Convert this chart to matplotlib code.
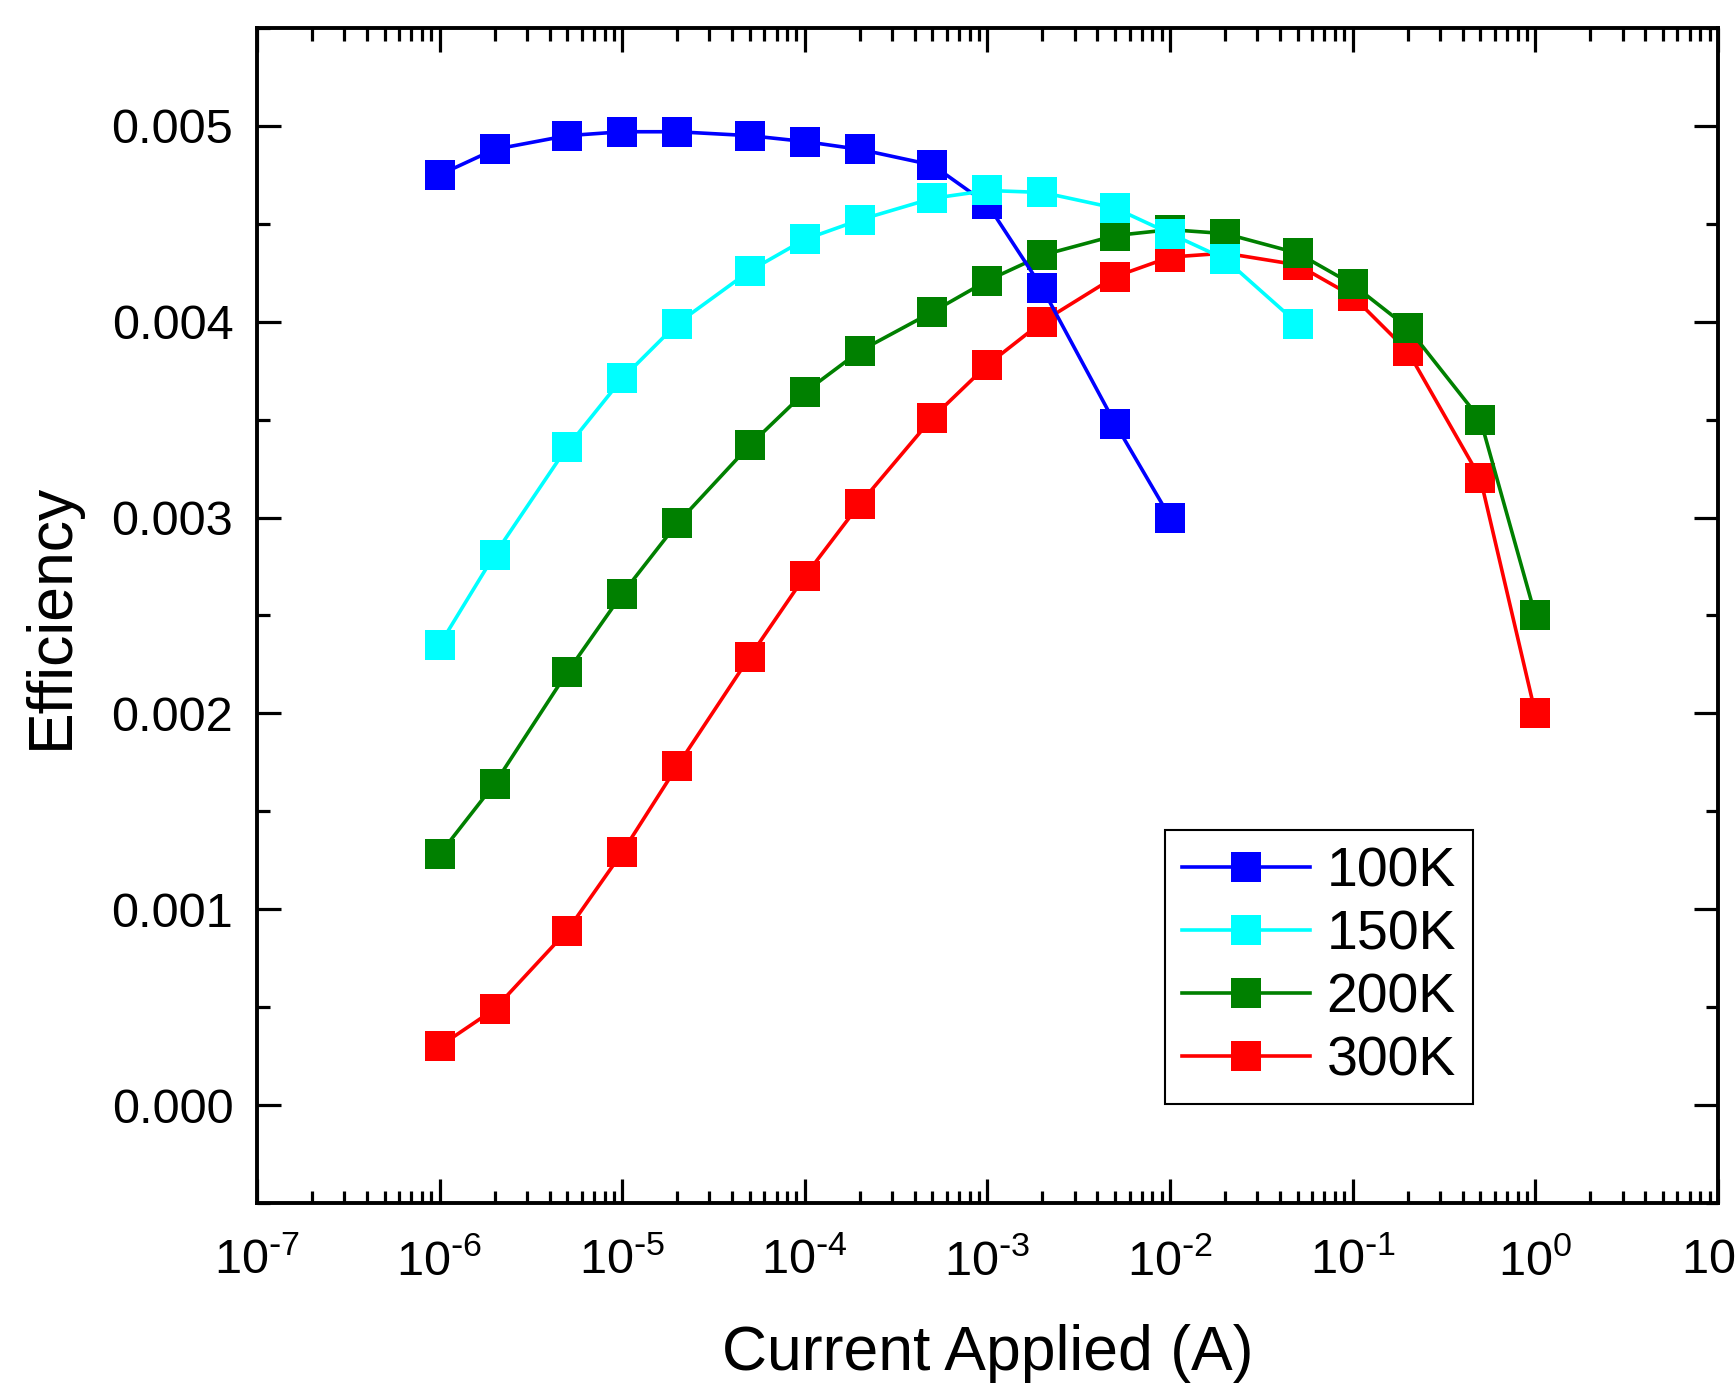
import matplotlib
matplotlib.use("Agg")
import matplotlib.pyplot as plt
from matplotlib.ticker import FormatStrFormatter, MultipleLocator, LogLocator, NullFormatter, FuncFormatter
import numpy as np

plt.rcParams['font.family'] = ['Liberation Sans', 'DejaVu Sans']
plt.rcParams['mathtext.default'] = 'regular'
plt.rcParams['axes.unicode_minus'] = False

current = [1e-6, 2e-6, 5e-6, 1e-5, 2e-5, 5e-5, 1e-4, 2e-4, 5e-4, 1e-3,
           2e-3, 5e-3, 1e-2, 2e-2, 5e-2, 1e-1, 2e-1, 5e-1, 1.0]

eff_100K = [0.00475, 0.00488, 0.00495, 0.00497, 0.00497, 0.00495, 0.00492, 0.00488,
            0.00480, 0.00460, 0.00417, 0.00348, 0.00300]
eff_150K = [0.00235, 0.00281, 0.00336, 0.00371, 0.00399, 0.00426, 0.00442, 0.00452,
            0.00463, 0.00467, 0.00466, 0.00458, 0.00445, 0.00432, 0.00399]
eff_200K = [0.00128, 0.00164, 0.00221, 0.00261, 0.00297, 0.00337, 0.00364, 0.00385,
            0.00405, 0.00421, 0.00434, 0.00444, 0.00447, 0.00445, 0.00435, 0.00419,
            0.00397, 0.00350, 0.00250]
eff_300K = [0.00030, 0.00049, 0.00089, 0.00129, 0.00173, 0.00229, 0.00270, 0.00307,
            0.00351, 0.00378, 0.00400, 0.00423, 0.00433, 0.00435, 0.00429, 0.00413,
            0.00385, 0.00320, 0.00200]

labels = ['100K', '150K', '200K', '300K']
colors = ['#0000FF', '#00FFFF', '#008000', '#FF0000']

fig = plt.figure(figsize=(17.35, 13.91), dpi=100)
ax = fig.add_axes([0.1481, 0.1352, 0.8421, 0.8447])

series = [eff_100K, eff_150K, eff_200K, eff_300K]
zorders = [4, 5, 3, 2]
for vals, lab, col, z in zip(series, labels, colors, zorders):
    ax.plot(current[:len(vals)], vals, '-s', color=col, lw=2.6, ms=21,
            markeredgewidth=0, label=lab, zorder=z)

ax.set_xscale('log')
ax.set_xlim(1e-7, 1e1)
ax.set_ylim(-0.0005, 0.0055)
ax.yaxis.set_major_locator(MultipleLocator(0.001))
ax.yaxis.set_minor_locator(MultipleLocator(0.0005))
ax.yaxis.set_major_formatter(FormatStrFormatter('%.3f'))
ax.xaxis.set_major_locator(LogLocator(base=10, numticks=20))
ax.xaxis.set_minor_locator(LogLocator(base=10, subs=range(2, 10), numticks=20))
ax.xaxis.set_minor_formatter(NullFormatter())


def log_fmt(v, pos):
    e = int(round(np.log10(v)))
    if e < 0:
        return '10$^{\\text{-}%d}$' % abs(e)
    return '10$^{%d}$' % e


ax.xaxis.set_major_formatter(FuncFormatter(log_fmt))

for s in ax.spines.values():
    s.set_linewidth(2.8)
ax.tick_params(which='both', direction='in', top=True, right=True, width=2.3)
ax.tick_params(which='major', length=17, labelsize=35)
ax.tick_params(axis='x', which='major', pad=26)
ax.tick_params(axis='y', which='major', pad=17)
ax.tick_params(which='minor', length=9)

ax.set_xlabel('Current Applied (A)', fontsize=45, labelpad=28)
ax.set_ylabel('Efficiency', fontsize=45, labelpad=22)

leg = ax.legend(loc='lower right', bbox_to_anchor=(0.832, 0.084), fontsize=40,
                frameon=True, fancybox=False, edgecolor='black', framealpha=1,
                handlelength=2.3, handletextpad=0.3, labelspacing=0.2,
                borderpad=0.3, borderaxespad=0)
leg.get_frame().set_linewidth(1.5)

fig.savefig('out.png', dpi=100)
